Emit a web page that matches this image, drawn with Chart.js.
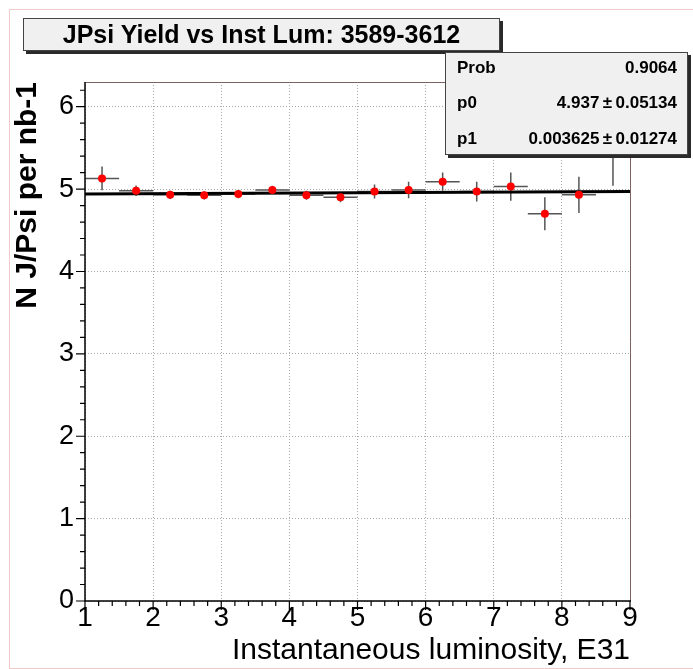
<!DOCTYPE html>
<html>
<head>
<meta charset="utf-8">
<title>JPsi Yield vs Inst Lum</title>
<script src="https://cdn.jsdelivr.net/npm/chart.js@4.4.1/dist/chart.umd.min.js"></script>
<style>
  html, body { margin: 0; padding: 0; background: #fff; overflow: hidden; }
  #wrap { position: relative; width: 693px; height: 669px; overflow: hidden;
          font-family: "Liberation Sans", Arial, Helvetica, sans-serif; }
  #outer { position: absolute; left: 9px; top: 9px; width: 720px; height: 658px;
           border: 1px solid #f2c9c9; }
  #c { position: absolute; left: 0; top: 0; }
  .pave { position: absolute; box-sizing: border-box; background: #f0f0f0;
          border: 1px solid #444; box-shadow: 3px 3px 0 #2a2a2a; color: #000; }
  #title { left: 23px; top: 18px; width: 477px; height: 33px;
           font-weight: bold; font-size: 25px; line-height: 31px; text-align: center; }
  #stats { left: 445px; top: 52px; width: 243px; height: 103px; }
  .row { position: absolute; left: 11px; right: 10px; height: 20px; line-height: 20px;
         font-size: 17px; font-weight: bold; }
  .row .k { position: absolute; left: 0; }
  .row .v { position: absolute; right: 0; }
</style>
</head>
<body>
<div id="wrap">
  <div id="outer"></div>
  <canvas id="c" width="693" height="669"></canvas>
  <div id="title" class="pave"></div>
  <div id="stats" class="pave"></div>
</div>
<script>
// Run range label
const chartTitle = 'JPsi Yield vs Inst Lum: 3589-3612';
const xTitle = 'Instantaneous luminosity, E31';
const yTitle = 'N J/Psi per nb-1';

// Luminosity bin centres (E31) and half bin width
const lumBins = [1.25, 1.75, 2.25, 2.75, 3.25, 3.75, 4.25, 4.75,
                 5.25, 5.75, 6.25, 6.75, 7.25, 7.75, 8.25, 8.75];
const binHalfWidth = 0.25;

// J/Psi yield per nb-1 in each bin, with its uncertainty
const yields = [5.13, 4.98, 4.93, 4.925, 4.94, 4.99, 4.925, 4.90,
                4.97, 4.99, 5.09, 4.97, 5.03, 4.70, 4.93, 5.62];
const yieldErrors = [0.145, 0.065, 0.05, 0.05, 0.05, 0.05, 0.055, 0.06,
                     0.085, 0.10, 0.11, 0.12, 0.17, 0.20, 0.22, 0.58];

// Axis ticks
const xTicks = [1, 2, 3, 4, 5, 6, 7, 8, 9];
const yTicks = [0, 1, 2, 3, 4, 5, 6];
const xRange = [1, 9];
const yRange = [0, 6.3];

// Straight-line fit results: p0 + p1 * lumi
const fitProb = 0.9064;
const fitP0 = 4.937, fitP0Err = 0.05134;
const fitP1 = 0.003625, fitP1Err = 0.01274;

const FONT = '"Liberation Sans", Arial, Helvetica, sans-serif';

document.getElementById('title').textContent = chartTitle;
const statsRows = [
  ['Prob', fitProb.toFixed(4), 60],
  ['p0', fitP0.toFixed(3) + '\u2009\u00b1\u2009' + fitP0Err.toFixed(5), 95],
  ['p1', fitP1.toFixed(6) + '\u2009\u00b1\u2009' + fitP1Err.toFixed(5), 131]
];
const statsEl = document.getElementById('stats');
statsRows.forEach(([k, v, cy]) => {
  const r = document.createElement('div');
  r.className = 'row';
  r.style.top = (cy - 52 - 1 - 10 + 8) + 'px';
  r.innerHTML = '<span class="k"></span><span class="v"></span>';
  r.querySelector('.k').textContent = k;
  r.querySelector('.v').textContent = v;
  statsEl.appendChild(r);
});

// Error bars under the markers
const errorBars = {
  id: 'errorBars',
  beforeDatasetsDraw(chart) {
    const { ctx, scales: { x, y }, chartArea: a } = chart;
    ctx.save();
    ctx.beginPath();
    ctx.rect(a.left, a.top, a.right - a.left, a.bottom - a.top);
    ctx.clip();
    ctx.strokeStyle = '#555';
    ctx.lineWidth = 1.5;
    lumBins.forEach((lx, i) => {
      const px = x.getPixelForValue(lx);
      const py = y.getPixelForValue(yields[i]);
      ctx.beginPath();
      ctx.moveTo(x.getPixelForValue(lx - binHalfWidth), py);
      ctx.lineTo(x.getPixelForValue(lx + binHalfWidth), py);
      ctx.moveTo(px, y.getPixelForValue(yields[i] - yieldErrors[i]));
      ctx.lineTo(px, y.getPixelForValue(yields[i] + yieldErrors[i]));
      ctx.stroke();
    });
    ctx.restore();
  }
};

// Frame and ROOT-style major/minor tick marks
const frameTicks = {
  id: 'frameTicks',
  afterDraw(chart) {
    const { ctx, scales: { x, y }, chartArea: a } = chart;
    ctx.save();
    ctx.lineWidth = 1;
    ctx.strokeStyle = '#7d6262';
    ctx.beginPath();
    ctx.moveTo(a.left, a.top + 0.5); ctx.lineTo(a.right + 0.5, a.top + 0.5);
    ctx.lineTo(a.right + 0.5, a.bottom);
    ctx.stroke();
    ctx.strokeStyle = '#000';
    ctx.lineWidth = 1.5;
    ctx.beginPath();
    ctx.moveTo(a.left, a.top); ctx.lineTo(a.left, a.bottom); ctx.lineTo(a.right + 1, a.bottom);
    ctx.stroke();
    ctx.lineWidth = 1.2;
    ctx.beginPath();
    for (let k = 0; k <= 40; k++) {
      const v = xRange[0] + k * 0.2;
      const px = x.getPixelForValue(v);
      const len = (k % 5 === 0) ? 9 : 5;
      ctx.moveTo(px, a.bottom); ctx.lineTo(px, a.bottom + len);
    }
    for (let k = 0; k <= 31; k++) {
      const v = yRange[0] + k * 0.2;
      if (v > yRange[1]) break;
      const py = y.getPixelForValue(v);
      const len = (k % 5 === 0) ? 9 : 5;
      ctx.moveTo(a.left, py); ctx.lineTo(a.left - len, py);
    }
    ctx.stroke();
    ctx.restore();
  }
};

const points = lumBins.map((lx, i) => ({ x: lx, y: yields[i] }));
const fitLine = [xRange[0], xRange[1]].map(lx => ({ x: lx, y: fitP0 + fitP1 * lx }));

new Chart(document.getElementById('c'), {
  type: 'scatter',
  data: {
    datasets: [
      {
        label: 'yield',
        data: points,
        order: 0,
        pointRadius: 4,
        pointBackgroundColor: '#ff0000',
        pointBorderColor: '#ff0000',
        pointBorderWidth: 0
      },
      {
        type: 'line',
        label: 'fit',
        data: fitLine,
        order: 1,
        borderColor: '#000',
        borderWidth: 3,
        pointRadius: 0,
        fill: false,
        tension: 0
      }
    ]
  },
  options: {
    responsive: false,
    animation: false,
    events: [],
    layout: { padding: { left: 0, top: 82, right: 63, bottom: 0 } },
    plugins: { legend: { display: false }, tooltip: { enabled: false } },
    scales: {
      x: {
        type: 'linear',
        min: xRange[0], max: xRange[1],
        afterBuildTicks: s => { s.ticks = xTicks.map(v => ({ value: v })); },
        afterFit: s => { s.height = 68; },
        grid: { color: '#a8a8a8', lineWidth: 1, drawTicks: false },
        border: { display: false, dash: [1, 2] },
        ticks: { color: '#000', font: { family: FONT, size: 28 }, padding: 0, maxRotation: 0, autoSkip: false },
        title: { display: true, text: xTitle, align: 'end', color: '#000',
                 font: { family: FONT, size: 30 }, padding: { top: 0, bottom: 0 } }
      },
      y: {
        type: 'linear',
        min: yRange[0], max: yRange[1],
        afterBuildTicks: s => { s.ticks = yTicks.map(v => ({ value: v })); },
        afterFit: s => { s.width = 85; },
        grid: { color: '#a8a8a8', lineWidth: 1, drawTicks: false },
        border: { display: false, dash: [1, 2] },
        ticks: { color: '#000', font: { family: FONT, size: 27 }, padding: 11 },
        title: { display: true, text: yTitle, align: 'end', color: '#000',
                 font: { family: FONT, size: 30, weight: 'bold' }, padding: { top: 10, bottom: 0 } }
      }
    }
  },
  plugins: [errorBars, frameTicks]
});
</script>
</body>
</html>
